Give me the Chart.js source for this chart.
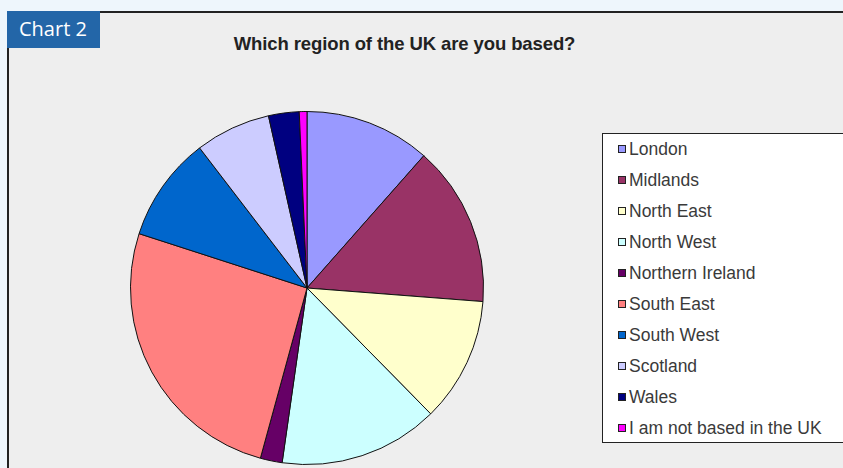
<!DOCTYPE html>
<html>
<head>
<meta charset="utf-8">
<script src="https://cdn.jsdelivr.net/npm/chart.js@4"></script>
<style>
    html, body { margin: 0; padding: 0; }
    body { width: 843px; height: 468px; background: #eef6fc; position: relative; overflow: hidden; font-family: "Liberation Sans", Arial, sans-serif; }
    .frame { position: absolute; left: 7px; top: 11px; width: 850px; height: 470px; background: #eeeeee; border-left: 2px solid #222; border-top: 2px solid #222; }
    .tag { position: absolute; left: 7px; top: 11px; width: 93px; height: 37px; background: #2366a8; color: #fff; font-family: "Open Sans", "Noto Sans", sans-serif; font-size: 20px; line-height: 36px; padding-left: 12px; box-sizing: border-box; }
    .titulo { position: absolute; left: 0; width: 809px; top: 33px; height: 22px; line-height: 22px; text-align: center; font-weight: bold; font-size: 18.5px; color: #222; letter-spacing: -0.1px; }
    #grafico { position: absolute; left: 0; top: 0; }
    .legenda { position: absolute; left: 602px; top: 133px; width: 260px; height: 310px; background: #fff; border: 1px solid #222; box-sizing: border-box; }
    .legenda .item { position: absolute; left: 15px; font-size: 17.5px; color: #3a3a3a; height: 20px; line-height: 20px; white-space: nowrap; }
    .legenda .item span { display: inline-block; width: 6px; height: 6px; border: 1px solid #222; margin-right: 3px; vertical-align: 2px; }
</style>
</head>
<body>
<div class="frame"></div>
<div class="tag">Chart 2</div>
<div class="titulo">Which region of the UK are you based?</div>
<canvas id="grafico" width="843" height="468"></canvas>
<div class="legenda" id="legenda"></div>
<script>
// Regiões e percentuais
const regioes = ['London', 'Midlands', 'North East', 'North West', 'Northern Ireland', 'South East', 'South West', 'Scotland', 'Wales', 'I am not based in the UK'];
const percentuais = [11.5, 14.7, 11.4, 14.6, 2.0, 25.7, 9.6, 6.9, 2.8, 0.7];
const cores = ['#9999ff', '#993366', '#ffffcc', '#ccffff', '#660066', '#ff8080', '#0066cc', '#ccccff', '#000080', '#ff00ff'];

// Legenda em HTML
const legenda = document.getElementById('legenda');
regioes.forEach((nome, i) => {
    const item = document.createElement('div');
    item.className = 'item';
    item.style.top = (5 + i * 31) + 'px';
    item.innerHTML = `<span style="background:${cores[i]}"></span>${nome}`;
    legenda.appendChild(item);
});

const ctx = document.getElementById('grafico');
new Chart(ctx, {
    type: 'pie',
    data: {
        labels: regioes,
        datasets: [{
            data: percentuais,
            backgroundColor: cores,
            borderColor: '#111',
            borderWidth: 1
        }]
    },
    options: {
        responsive: false,
        animation: false,
        layout: {
            padding: { left: 130, right: 359, top: 111, bottom: 3 }
        },
        plugins: {
            legend: { display: false },
            tooltip: { enabled: false }
        }
    }
});
</script>
</body>
</html>
